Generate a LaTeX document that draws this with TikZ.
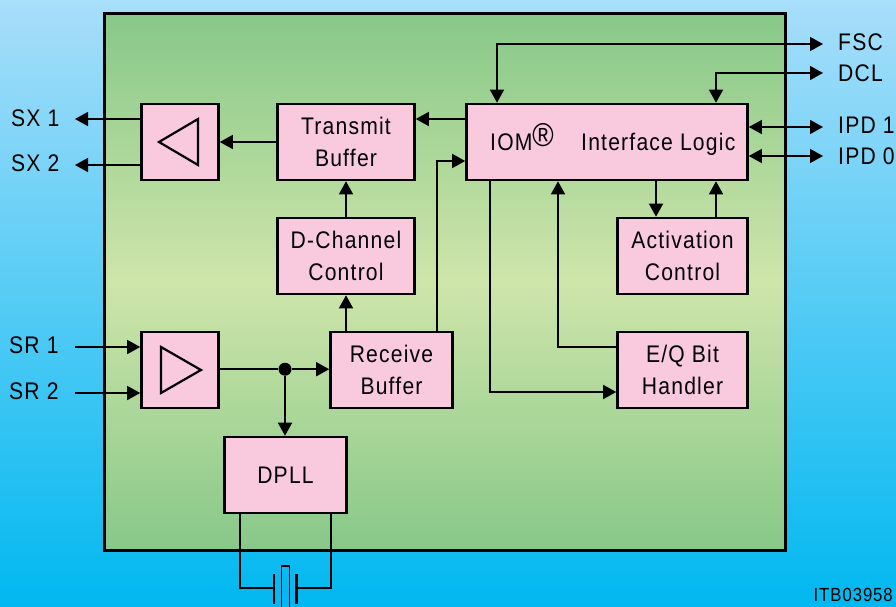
\documentclass[tikz,border=0pt]{standalone}
\usepackage{fontspec}
\setmainfont[FakeStretch=0.88,LetterSpace=5]{Liberation Sans}
\usetikzlibrary{arrows.meta}
\definecolor{skytop}{RGB}{168,222,250}
\definecolor{skybot}{RGB}{0,184,240}
\definecolor{chipedge}{RGB}{135,200,137}
\definecolor{chipmid}{RGB}{207,229,170}
\definecolor{blockpink}{RGB}{249,202,222}
\tikzset{
  blockbox/.style={draw=black, line width=2.6pt, fill=blockpink, align=center, inner sep=0pt, minimum height=76pt, font=\fontsize{24}{32}\selectfont},
  pinlabel/.style={anchor=west, inner sep=0pt, font=\fontsize{24}{28}\selectfont},
  conn/.style={line width=1.5pt, -{Triangle[length=13pt,width=14pt]}},
  connboth/.style={line width=1.5pt, {Triangle[length=13pt,width=14pt]}-{Triangle[length=13pt,width=14pt]}},
  wire/.style={line width=1.5pt},
  ampsym/.style={line width=2.2pt, miter limit=10}
}
\begin{document}
\begin{tikzpicture}[x=1pt,y=-1pt]
          \useasboundingbox (0,0) rectangle (896,607);
          \shade [top color=skytop, bottom color=skybot] (0,0) rectangle (896,607); % page background
          \shade [top color=chipedge, bottom color=chipedge, middle color=chipmid, draw=black, line width=3pt] (104,14) rectangle (785,550); % chip

          % blocks
          \node [blockbox, minimum width=77pt] (txamp) at (180,142) {};
          \node [blockbox, minimum width=137pt] (txbuf) at (346,142) {Transmit\\Buffer};
          \node [blockbox, minimum width=281pt] (iom) at (607,142) {};
          \node [blockbox, minimum width=137pt] (dchan) at (346,256) {D-Channel\\Control};
          \node [blockbox, minimum width=130pt] (activ) at (682.5,256) {Activation\\Control};
          \node [blockbox, minimum width=77pt] (rxamp) at (180,370) {};
          \node [blockbox, minimum width=122pt] (rxbuf) at (391.5,370) {Receive\\Buffer};
          \node [blockbox, minimum width=130pt] (eqbit) at (682.5,370) {E/Q Bit\\Handler};
          \node [blockbox, minimum width=122pt] (dpll) at (285.5,475) {DPLL};

          % text in the IOM block
          \node [anchor=base west, inner sep=0pt, font=\fontsize{24}{28}\selectfont] (iomname) at (490,150) {IOM\raisebox{4pt}{\fontsize{33}{33}\selectfont®}};
          \node [anchor=base west, inner sep=0pt, font=\fontsize{24}{28}\selectfont] (iomlogic) at (581,150) {Interface Logic};

          % amplifier symbols
          \draw [ampsym] (198,119) -- (159,142) -- (198,165) -- cycle;
          \draw [ampsym] (161,347) -- (201,370) -- (161,393) -- cycle;

          % pins
          \node [pinlabel] (sx1) at (11,118) {SX 1};
          \node [pinlabel] (sx2) at (11,163) {SX 2};
          \node [pinlabel] (sr1) at (9,345) {SR 1};
          \node [pinlabel] (sr2) at (9,391) {SR 2};
          \node [pinlabel] (fsc) at (838,42) {FSC};
          \node [pinlabel] (dcl) at (838,73) {DCL};
          \node [pinlabel] (ipd1) at (838,125) {IPD 1};
          \node [pinlabel] (ipd0) at (838,156) {IPD 0};
          \node [anchor=east, inner sep=0pt, font=\fontsize{19}{20}\selectfont] (itb) at (893,595) {ITB03958};

          \coordinate (sx1end) at (75,119);
          \coordinate (sx2end) at (75,165);
          \coordinate (sr1end) at (75,347);
          \coordinate (sr2end) at (75,393);
          \coordinate (fscend) at (823,44);
          \coordinate (dclend) at (823,73);
          \coordinate (ipd1end) at (823,127);
          \coordinate (ipd0end) at (823,156);

          \draw [conn] (txamp.west |- sx1end) -- (sx1end);
          \draw [conn] (txamp.west |- sx2end) -- (sx2end);
          \draw [conn] (sr1end) -- (rxamp.west |- sr1end);
          \draw [conn] (sr2end) -- (rxamp.west |- sr2end);

          \draw [conn] (txbuf.west) -- (txamp.east);
          \draw [conn] (iom.west |- 0,119) -- (txbuf.east |- 0,119);
          \draw [conn] (dchan.north) -- (txbuf.south);
          \draw [conn] (dchan.north |- rxbuf.north) -- (dchan.south);
          \draw [conn] (437,332) |- (iom.west |- 0,161);

          \draw [connboth] (iom.north -| 497,0) |- (fscend);
          \draw [connboth] (iom.north -| 716,0) |- (dclend);
          \draw [connboth] (iom.east |- ipd1end) -- (ipd1end);
          \draw [connboth] (iom.east |- ipd0end) -- (ipd0end);

          \draw [conn] (iom.south -| 656,0) -- (activ.north -| 656,0);
          \draw [conn] (activ.north -| 716,0) -- (iom.south -| 716,0);
          \draw [conn] (iom.south -| 490,0) |- (eqbit.west |- 0,392);
          \draw [conn] (eqbit.west |- 0,347) -| (iom.south -| 558,0);

          % receive path and clock
          \node [circle, fill=black, inner sep=0pt, minimum size=13pt] (tap) at (285,369.2) {};
          \draw [wire] (rxamp.east |- tap) -- (tap);
          \draw [conn] (tap) -- (rxbuf.west |- tap);
          \draw [conn] (tap) -- (tap |- dpll.north);

          % crystal
          \coordinate (platea) at (274,588);
          \coordinate (plateb) at (296.5,588);
          \draw [wire] (dpll.south -| 240,0) |- (platea);
          \draw [wire] (dpll.south -| 331,0) |- (plateb);
          \draw [line width=2.6pt] (274,574) -- (274,604);
          \draw [line width=2.6pt] (296.5,574) -- (296.5,604);
          \draw [line width=1.5pt] (281.7,612) -- (281.7,566) -- (289.3,566) -- (289.3,612);
\end{tikzpicture}
\end{document}
